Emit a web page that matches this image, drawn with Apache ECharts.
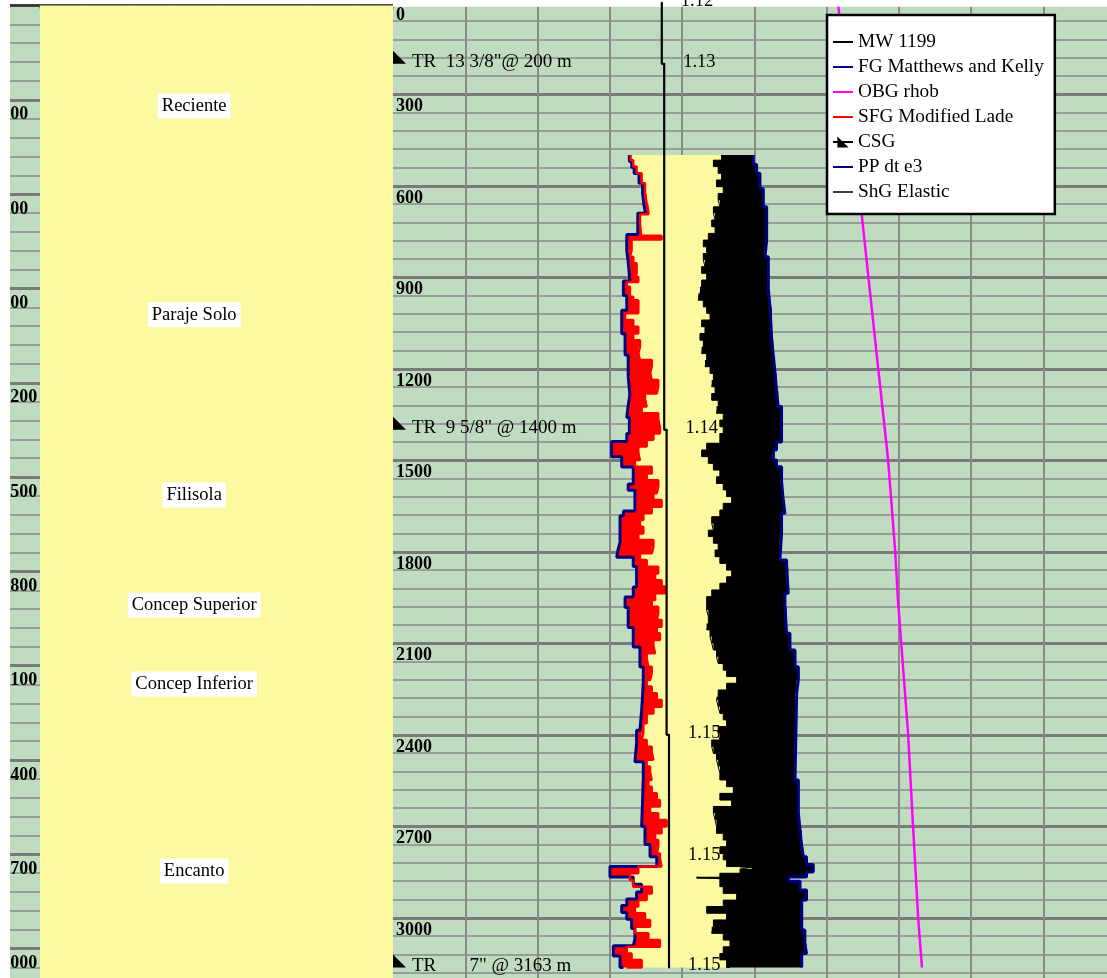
<!DOCTYPE html>
<html>
<head>
<meta charset="utf-8">
<script src="https://cdn.jsdelivr.net/npm/echarts@6/dist/echarts.min.js"></script>
<style>
  html, body { margin: 0; padding: 0; background: #ffffff; }
  #chart { width: 1107px; height: 978px; }
</style>
</head>
<body>
<div id="chart"></div>
<script>
// Formation column (depths in m)
const formationNames = ['Reciente', 'Paraje Solo', 'Filisola', 'Concep Superior', 'Concep Inferior', 'Encanto'];
const formationTops  = [0, 640, 1328, 1786, 2028, 2288];
const formationBases = [640, 1328, 1786, 2028, 2288, 3218];

// Casing shoes
const casingDepths = [200, 1400, 3163];
const casingLabels = ['TR  13 3/8"@ 200 m', 'TR  9 5/8" @ 1400 m', 'TR       7" @ 3163 m'];

// Mud weight schedule (g/cc)
const mwDepths = [0, 200, 1400, 2400, 2800, 3163];
const mwValues = [1.12, 1.13, 1.14, 1.15, 1.15, 1.15];

// Overburden gradient, rhob (g/cc) : [depth, value]
const obgLog = [[0, 1.854], [319, 1.900], [702, 1.954], [1194, 2.021], [1499, 2.063], [1794, 2.092],
  [1958, 2.104], [2394, 2.146], [2702, 2.167], [2998, 2.188], [3163, 2.204]];

// Pore pressure, dt e3 : [depth, value]
const ppLog = [[499, 0.985], [520, 0.995], [540, 1.005], [560, 1.025], [592, 1.040], [625, 1.045], [660, 1.052],
  [690, 1.020], [760, 0.974], [811, 0.980], [850, 0.987], [912, 0.960], [960, 0.974], [1008, 0.953], [1085, 0.967],
  [1155, 0.980], [1225, 0.987], [1285, 0.980], [1320, 0.974], [1360, 0.985], [1412, 0.974], [1438, 0.911],
  [1488, 0.953], [1522, 1.001], [1578, 0.980], [1598, 1.008], [1666, 0.960], [1682, 0.946], [1770, 0.939],
  [1790, 0.932], [1818, 1.001], [1848, 1.015], [1915, 1.001], [1948, 0.967], [1983, 0.980], [2048, 1.001],
  [2112, 1.029], [2178, 1.043], [2232, 1.036], [2320, 1.029], [2385, 1.015], [2430, 1.008], [2488, 1.043],
  [2550, 1.036], [2700, 1.050], [2760, 1.071], [2800, 1.099], [2832, 0.904], [2866, 1.001], [2890, 1.036],
  [2915, 1.015], [2938, 0.974], [2960, 0.953], [2983, 0.974], [3005, 0.994], [3035, 1.008], [3070, 1.001],
  [3092, 0.918], [3125, 0.946], [3163, 0.960]];

// Shear failure gradient, Modified Lade : [depth, value]
const sfgLog = [[499, 0.990], [516, 1.001], [537, 1.015], [559, 1.036], [592, 1.050], [625, 1.057], [658, 1.064],
  [685, 1.064], [693, 1.029], [723, 1.033], [756, 1.029], [764, 1.119], [770, 1.119], [776, 0.994], [811, 0.987],
  [833, 1.001], [854, 1.015], [887, 1.008], [898, 1.022], [915, 0.974], [931, 0.987], [964, 1.001], [975, 1.022],
  [997, 1.022], [1018, 0.967], [1040, 1.001], [1062, 1.022], [1084, 1.001], [1106, 1.029], [1128, 1.022],
  [1150, 1.029], [1171, 1.078], [1193, 1.071], [1215, 1.078], [1237, 1.105], [1259, 1.099], [1281, 1.050],
  [1303, 1.057], [1324, 1.036], [1346, 1.105], [1368, 1.112], [1390, 1.112], [1412, 1.085], [1433, 1.057],
  [1455, 1.022], [1477, 1.029], [1499, 1.008], [1521, 1.078], [1543, 1.057], [1565, 1.105], [1586, 1.099],
  [1608, 1.085], [1630, 1.119], [1652, 1.078], [1674, 1.043], [1696, 1.029], [1718, 1.043], [1740, 1.022],
  [1761, 1.085], [1783, 1.078], [1805, 1.029], [1827, 1.057], [1849, 1.105], [1871, 1.092], [1893, 1.119],
  [1914, 1.133], [1936, 1.092], [1958, 1.078], [1980, 1.105], [2002, 1.099], [2024, 1.119], [2046, 1.099],
  [2067, 1.112], [2089, 1.085], [2111, 1.092], [2133, 1.057], [2155, 1.064], [2177, 1.078], [2199, 1.071],
  [2220, 1.057], [2242, 1.078], [2264, 1.099], [2286, 1.119], [2308, 1.085], [2330, 1.057], [2362, 1.043],
  [2395, 1.036], [2417, 1.057], [2439, 1.078], [2461, 1.085], [2482, 1.057], [2504, 1.071], [2526, 1.078],
  [2548, 1.064], [2570, 1.078], [2592, 1.099], [2614, 1.112], [2635, 1.071], [2657, 1.105], [2679, 1.140],
  [2701, 1.119], [2723, 1.092], [2745, 1.105], [2767, 1.099], [2789, 1.112], [2810, 1.119], [2832, 1.022],
  [2854, 0.987], [2876, 1.001], [2898, 1.078], [2920, 1.057], [2942, 1.022], [2963, 1.008], [2985, 1.050],
  [3007, 1.071], [3029, 1.008], [3051, 1.064], [3073, 1.112], [3095, 0.974], [3117, 0.994], [3138, 1.036],
  [3163, 0.974]];

// Shear (breakdown) gradient, elastic : [depth, value]
const shgLog = [[499, 1.369], [516, 1.335], [537, 1.355], [559, 1.369], [581, 1.348], [603, 1.376], [625, 1.355],
  [647, 1.362], [669, 1.335], [690, 1.342], [712, 1.328], [734, 1.342], [756, 1.314], [778, 1.293], [800, 1.307],
  [822, 1.293], [843, 1.300], [865, 1.286], [887, 1.307], [909, 1.286], [931, 1.279], [953, 1.272], [975, 1.293],
  [997, 1.307], [1018, 1.321], [1040, 1.286], [1062, 1.300], [1084, 1.279], [1106, 1.293], [1128, 1.286],
  [1150, 1.307], [1171, 1.300], [1193, 1.321], [1215, 1.335], [1237, 1.328], [1259, 1.342], [1281, 1.328],
  [1303, 1.355], [1324, 1.348], [1346, 1.376], [1368, 1.362], [1390, 1.376], [1412, 1.362], [1444, 1.307],
  [1466, 1.286], [1488, 1.314], [1510, 1.335], [1532, 1.362], [1554, 1.348], [1576, 1.376], [1597, 1.390],
  [1619, 1.411], [1641, 1.376], [1663, 1.362], [1685, 1.328], [1707, 1.335], [1729, 1.314], [1750, 1.335],
  [1772, 1.355], [1794, 1.342], [1816, 1.362], [1838, 1.390], [1860, 1.411], [1882, 1.390], [1903, 1.362],
  [1925, 1.328], [1947, 1.307], [1969, 1.307], [1991, 1.314], [2013, 1.314], [2035, 1.307], [2056, 1.321],
  [2078, 1.328], [2100, 1.335], [2122, 1.348], [2144, 1.355], [2166, 1.376], [2188, 1.390], [2209, 1.432],
  [2231, 1.390], [2253, 1.355], [2275, 1.348], [2286, 1.355], [2308, 1.362], [2330, 1.376], [2351, 1.390],
  [2373, 1.355], [2395, 1.362], [2417, 1.328], [2439, 1.335], [2461, 1.348], [2482, 1.355], [2504, 1.362],
  [2526, 1.362], [2548, 1.390], [2570, 1.418], [2592, 1.362], [2614, 1.411], [2635, 1.335], [2657, 1.342],
  [2679, 1.348], [2701, 1.348], [2723, 1.376], [2745, 1.390], [2767, 1.362], [2789, 1.376], [2810, 1.390],
  [2832, 1.446], [2835, 1.494], [2840, 1.446], [2854, 1.362], [2867, 1.265], [2872, 1.362], [2898, 1.376],
  [2920, 1.432], [2942, 1.376], [2963, 1.307], [2985, 1.390], [3007, 1.335], [3029, 1.328], [3051, 1.376],
  [3073, 1.404], [3095, 1.376], [3117, 1.362], [3138, 1.390], [3163, 1.404]];

// Fracture gradient, Matthews and Kelly : [depth, value]
const fgLog = [[499, 1.501], [530, 1.515], [559, 1.529], [610, 1.543], [669, 1.557], [778, 1.550], [833, 1.564],
  [942, 1.571], [997, 1.578], [1106, 1.585], [1160, 1.592], [1215, 1.598], [1270, 1.605], [1324, 1.619],
  [1425, 1.619], [1440, 1.598], [1466, 1.585], [1499, 1.598], [1521, 1.619], [1576, 1.626], [1630, 1.633],
  [1674, 1.619], [1740, 1.612], [1827, 1.640], [1849, 1.647], [1936, 1.633], [1980, 1.640], [2067, 1.654],
  [2122, 1.675], [2177, 1.689], [2220, 1.682], [2264, 1.675], [2548, 1.689], [2658, 1.696], [2712, 1.703],
  [2767, 1.710], [2800, 1.723], [2825, 1.751], [2850, 1.723], [2866, 1.647], [2880, 1.696], [2909, 1.723],
  [2942, 1.703], [3040, 1.716], [3084, 1.723], [3117, 1.703], [3163, 1.703]];

// ---- styling ----
const SERIF = 'Liberation Serif';
const GREEN = '#C0DCC0';
const YELLOW = '#FCF9A1';
const GRID_MINOR = '#8a8a8a';
const GRID_MAJOR = '#7a7a7a';
const NAVY = '#000080';

// [value, depth] pairs for the depth-track axes
const toXY = log => log.map(p => [p[1], p[0]]);

// Blocky log trace: each reading holds until the next depth (same as step: 'start')
function stepped(log) {
  const pts = [];
  for (let i = 0; i < log.length; i++) {
    pts.push([log[i][1], log[i][0]]);
    if (i + 1 < log.length) pts.push([log[i][1], log[i + 1][0]]);
  }
  return pts;
}

// Filled band between two logs
function band(leftLog, rightLog, color) {
  const left = stepped(leftLog);
  const right = stepped(rightLog).reverse();
  return {
    type: 'custom', coordinateSystem: 'cartesian2d', xAxisIndex: 0, yAxisIndex: 0,
    silent: true, data: [[0, 0]], z: 2,
    renderItem: (params, api) => ({
      type: 'polygon',
      shape: { points: left.concat(right).map(p => api.coord(p)) },
      style: { fill: color }
    })
  };
}

function logLine(name, log, color, width) {
  return {
    name, type: 'line', xAxisIndex: 0, yAxisIndex: 0, data: toXY(log),
    step: 'start', symbol: 'none', showSymbol: false, silent: true,
    lineStyle: { color, width }, itemStyle: { color }, emphasis: { disabled: true }, z: 3
  };
}

const depthLabel = {
  show: true, inside: true, fontFamily: SERIF, fontWeight: 'bold', fontSize: 18, color: '#000',
  align: 'left', verticalAlign: 'top', showMinLabel: true, showMaxLabel: false,
  formatter: v => (v % 300 === 0 ? String(v) : '')
};

const chart = echarts.init(document.getElementById('chart'), null, { renderer: 'canvas' });

const option = {
  animation: false,
  backgroundColor: '#ffffff',
  textStyle: { fontFamily: SERIF },
  grid: [
    { left: 393, top: 2.8, width: 714, height: 976, show: true, backgroundColor: GREEN, borderWidth: 0, outerBoundsMode: 'none' },
    { left: -4.7, top: 5.5, width: 397.7, height: 974.6, show: true, backgroundColor: GREEN, borderWidth: 0, outerBoundsMode: 'none' }
  ],
  xAxis: [
    { gridIndex: 0, type: 'value', min: 0, max: 2.975, show: true,
      axisLine: { show: false }, axisTick: { show: false }, axisLabel: { show: false }, splitLine: { show: false } },
    { gridIndex: 0, type: 'value', min: 0, max: 9.882, interval: 1,
      axisLine: { show: false }, axisTick: { show: false }, axisLabel: { show: false },
      splitLine: { show: true, showMinLine: false, showMaxLine: false, lineStyle: { color: GRID_MINOR, width: 2 } } },
    { gridIndex: 1, type: 'value', position: 'top', min: 0, max: 8.9, interval: 1,
      axisLine: { show: true, onZero: false, lineStyle: { color: '#333333', width: 2.5 } },
      axisTick: { show: true, inside: true, length: 3, lineStyle: { color: '#666666', width: 1.5 } },
      axisLabel: { show: false }, splitLine: { show: false } }
  ],
  yAxis: [
    { gridIndex: 0, type: 'value', position: 'left', inverse: true, min: 0, max: 3200, interval: 60,
      axisLine: { show: false, onZero: false }, axisTick: { show: false }, axisLabel: { show: false },
      splitLine: { show: true, lineStyle: { color: GRID_MINOR, width: 1.6 } } },
    { gridIndex: 0, type: 'value', position: 'left', inverse: true, min: 0, max: 3200, interval: 300,
      axisLine: { show: false, onZero: false }, axisTick: { show: false },
      axisLabel: Object.assign({}, depthLabel, { margin: 3, lineHeight: 25 }),
      splitLine: { show: true, lineStyle: { color: GRID_MAJOR, width: 3 } } },
    { gridIndex: 1, type: 'value', position: 'left', inverse: true, min: 0, max: 3100, interval: 60,
      axisLine: { show: false, onZero: false }, axisTick: { show: false }, axisLabel: { show: false },
      splitLine: { show: true, lineStyle: { color: GRID_MINOR, width: 1.6 } } },
    { gridIndex: 1, type: 'value', position: 'left', inverse: true, min: 0, max: 3100, interval: 300,
      axisLine: { show: false, onZero: false }, axisTick: { show: false },
      axisLabel: Object.assign({}, depthLabel, { margin: 6, lineHeight: 30 }),
      splitLine: { show: true, lineStyle: { color: GRID_MAJOR, width: 3 } } }
  ],
  legend: {
    orient: 'vertical', left: 827, top: 15,
    padding: [17.5, 11, 12.5, 5],
    backgroundColor: '#ffffff', borderColor: '#000000', borderWidth: 2.5, borderRadius: 0,
    itemWidth: 20, itemHeight: 14, itemGap: 6, selectedMode: false,
    itemStyle: { opacity: 0 },
    lineStyle: { width: 2 },
    textStyle: { fontFamily: SERIF, fontSize: 19.3, color: '#000000' },
    data: [
      { name: 'MW 1199' },
      { name: 'FG Matthews and Kelly' },
      { name: 'OBG rhob' },
      { name: 'SFG Modified Lade' },
      { name: 'CSG', itemStyle: { opacity: 1, color: '#000000' }, lineStyle: { opacity: 1, width: 2, color: '#000000' } },
      { name: 'PP dt e3' },
      { name: 'ShG Elastic', lineStyle: { width: 1.5 } }
    ]
  },
  graphic: [
    { type: 'rect', shape: { x: 393, y: 0, width: 714, height: 6.7 }, style: { fill: '#ffffff' }, z: 5, silent: true },
    { type: 'rect', shape: { x: 0, y: 0, width: 10, height: 978 }, style: { fill: '#ffffff' }, z: 5, silent: true }
  ],
  series: [
    // formation column
    {
      type: 'custom', coordinateSystem: 'cartesian2d', xAxisIndex: 2, yAxisIndex: 2, silent: true, z: 2,
      data: formationTops.map((t, i) => [t, formationBases[i]]),
      renderItem: (params, api) => {
        const p0 = api.coord([1, api.value(0)]);
        const p1 = api.coord([8.9, api.value(1)]);
        const cs = params.coordSys;
        return {
          type: 'group',
          children: [
            { type: 'rect', shape: { x: p0[0], y: p0[1], width: p1[0] - p0[0], height: p1[1] - p0[1] + 1 },
              style: { fill: YELLOW } },
            { type: 'text', x: cs.x + cs.width / 2, y: (p0[1] + p1[1]) / 2, z2: 10,
              style: { text: formationNames[params.dataIndex], fontFamily: SERIF, fontSize: 18.5, fill: '#000',
                align: 'center', verticalAlign: 'middle', backgroundColor: '#ffffff', padding: [3, 4], lineHeight: 19 } }
          ]
        };
      }
    },
    band(ppLog, shgLog, YELLOW),
    band(ppLog, sfgLog, '#FF0000'),
    band(shgLog, fgLog, '#000000'),
    logLine('PP dt e3', ppLog, NAVY, 3),
    logLine('SFG Modified Lade', sfgLog, '#FF0000', 2.5),
    logLine('ShG Elastic', shgLog, '#000000', 1),
    logLine('FG Matthews and Kelly', fgLog, NAVY, 3),
    {
      name: 'OBG rhob', type: 'line', xAxisIndex: 0, yAxisIndex: 0, data: toXY(obgLog),
      symbol: 'none', showSymbol: false, silent: true, lineStyle: { color: '#FF00FF', width: 2.5 },
      itemStyle: { color: '#FF00FF' }, emphasis: { disabled: true }, z: 3
    },
    {
      name: 'MW 1199', type: 'line', xAxisIndex: 0, yAxisIndex: 0, step: 'start', clip: false,
      data: mwDepths.map((d, i) => [mwValues[i], d]),
      symbol: 'circle', symbolSize: 2, showSymbol: true, silent: true,
      lineStyle: { color: '#000000', width: 2.2 }, itemStyle: { color: '#000000' }, emphasis: { disabled: true },
      label: { show: true, position: 'right', distance: 18, offset: [0, -2], fontFamily: SERIF, fontSize: 18.5,
        color: '#000', formatter: p => p.value[0].toFixed(2) },
      z: 6
    },
    {
      name: 'CSG', type: 'line', xAxisIndex: 0, yAxisIndex: 0, clip: false,
      data: casingDepths.map(d => [0, d]),
      symbol: 'path://M0,0L0,10L10,10Z', symbolSize: 13, symbolOffset: [6.5, -6.5], showSymbol: true, silent: true,
      lineStyle: { opacity: 0 }, itemStyle: { color: '#000000' }, emphasis: { disabled: true },
      label: { show: true, position: 'right', distance: 6, offset: [0, 5], fontFamily: SERIF, fontSize: 19,
        color: '#000', formatter: p => casingLabels[p.dataIndex] },
      z: 7
    }
  ]
};

chart.setOption(option);
</script>
</body>
</html>
